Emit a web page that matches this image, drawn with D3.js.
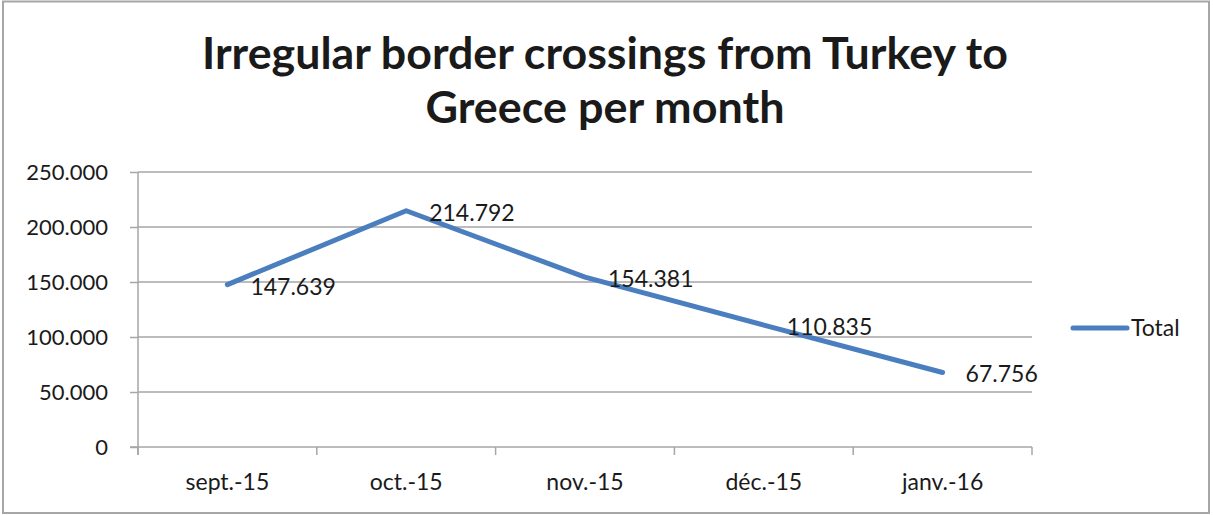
<!DOCTYPE html>
<html>
<head>
<meta charset="utf-8">
<script src="https://cdn.jsdelivr.net/npm/d3@7/dist/d3.min.js"></script>
<style>
  html, body { margin: 0; padding: 0; background: #fff; }
  svg { display: block; }
  text { font-family: Lato, "Open Sans", sans-serif; fill: #1a1a1a; }
</style>
</head>
<body>
<svg id="chart" width="1213" height="515"></svg>
<script>
// ---- data ----
const categories = ["sept.-15", "oct.-15", "nov.-15", "déc.-15", "janv.-16"];
const totalValues = [147639, 214792, 154381, 110835, 67756];
const yTicks = [0, 50000, 100000, 150000, 200000, 250000];
const seriesName = "Total";
const titleLines = ["Irregular border crossings from Turkey to", "Greece per month"];

// ---- layout ----
const W = 1213, H = 515;
const plot = { left: 138, right: 1032, top: 172, bottom: 447 };
const gridColor = "#A6A6A6";
const lineColor = "#4A7EBF";

const svg = d3.select("#chart");

const locale = d3.formatLocale({ decimal: ",", thousands: ".", grouping: [3], currency: ["", ""] });
const fmt = locale.format(",d");

// outer border
svg.append("rect")
  .attr("x", 3).attr("y", 1.5).attr("width", 1206).attr("height", 511.5)
  .attr("fill", "none").attr("stroke", gridColor).attr("stroke-width", 2);

// title
const titleTargets = [806, 359];
const titleBaselines = [69, 123];
titleLines.forEach((t, i) => {
  const el = svg.append("text")
    .attr("x", 605).attr("y", titleBaselines[i])
    .attr("text-anchor", "middle")
    .style("font-size", "43px").style("font-weight", "bold")
    .text(t);
  const w = el.node().getComputedTextLength();
  if (Math.abs(w - titleTargets[i]) > 3) {
    el.attr("textLength", titleTargets[i]).attr("lengthAdjust", "spacingAndGlyphs");
  }
});

// scales
const x = d3.scaleBand().domain(categories).range([plot.left, plot.right]).padding(0);
const y = d3.scaleLinear().domain([0, 250000]).range([plot.bottom, plot.top]);
const cx = c => x(c) + x.bandwidth() / 2;

// gridlines
svg.append("g").selectAll("line")
  .data(yTicks.filter(v => v > 0))
  .join("line")
  .attr("x1", plot.left).attr("x2", plot.right)
  .attr("y1", d => y(d)).attr("y2", d => y(d))
  .attr("stroke", gridColor).attr("stroke-width", 1.5);

// y axis
const yAxis = d3.axisLeft(y).tickValues(yTicks).tickFormat(fmt).tickSize(8).tickPadding(22);
const yg = svg.append("g").attr("transform", `translate(${plot.left},0)`).call(yAxis);
yg.select(".domain").remove();
yg.selectAll(".tick line").attr("stroke", gridColor).attr("stroke-width", 1.5);
yg.selectAll(".tick text").style("font-size", "22px").style("font-family", "Lato, sans-serif").attr("fill", "#1a1a1a").attr("dy", "0.36em");
svg.append("line")
  .attr("x1", plot.left).attr("x2", plot.left)
  .attr("y1", plot.top).attr("y2", plot.bottom + 8)
  .attr("stroke", gridColor).attr("stroke-width", 1.5);

// x axis
svg.append("line")
  .attr("x1", plot.left - 8).attr("x2", plot.right)
  .attr("y1", plot.bottom).attr("y2", plot.bottom)
  .attr("stroke", gridColor).attr("stroke-width", 1.5);
const boundaries = categories.map(c => x(c)).concat([x(categories[categories.length - 1]) + x.bandwidth()]);
svg.append("g").selectAll("line")
  .data(boundaries)
  .join("line")
  .attr("x1", d => d).attr("x2", d => d)
  .attr("y1", plot.bottom).attr("y2", plot.bottom + 8)
  .attr("stroke", gridColor).attr("stroke-width", 1.5);
const xAxis = d3.axisBottom(x).tickSize(0).tickPadding(0);
const xg = svg.append("g").attr("transform", `translate(0,${plot.bottom})`).call(xAxis);
xg.select(".domain").remove();
xg.selectAll(".tick text")
  .style("font-size", "23px").style("font-family", "Lato, sans-serif").attr("fill", "#1a1a1a")
  .attr("dy", null).attr("y", 43);

// line
const data = categories.map((c, i) => ({ c, v: totalValues[i] }));
const line = d3.line().x(d => cx(d.c)).y(d => y(d.v));
svg.append("path")
  .datum(data)
  .attr("d", line)
  .attr("fill", "none")
  .attr("stroke", lineColor)
  .attr("stroke-width", 5)
  .attr("stroke-linecap", "round")
  .attr("stroke-linejoin", "round");

// data labels
svg.append("g").selectAll("text")
  .data(data)
  .join("text")
  .attr("x", d => cx(d.c) + 23)
  .attr("y", d => y(d.v) + 10)
  .style("font-size", "23px")
  .text(d => fmt(d.v));

// legend
svg.append("line")
  .attr("x1", 1073).attr("x2", 1127).attr("y1", 328).attr("y2", 328)
  .attr("stroke", lineColor).attr("stroke-width", 5).attr("stroke-linecap", "round");
svg.append("text")
  .attr("x", 1131).attr("y", 336)
  .style("font-size", "23px")
  .text(seriesName);
</script>
</body>
</html>
